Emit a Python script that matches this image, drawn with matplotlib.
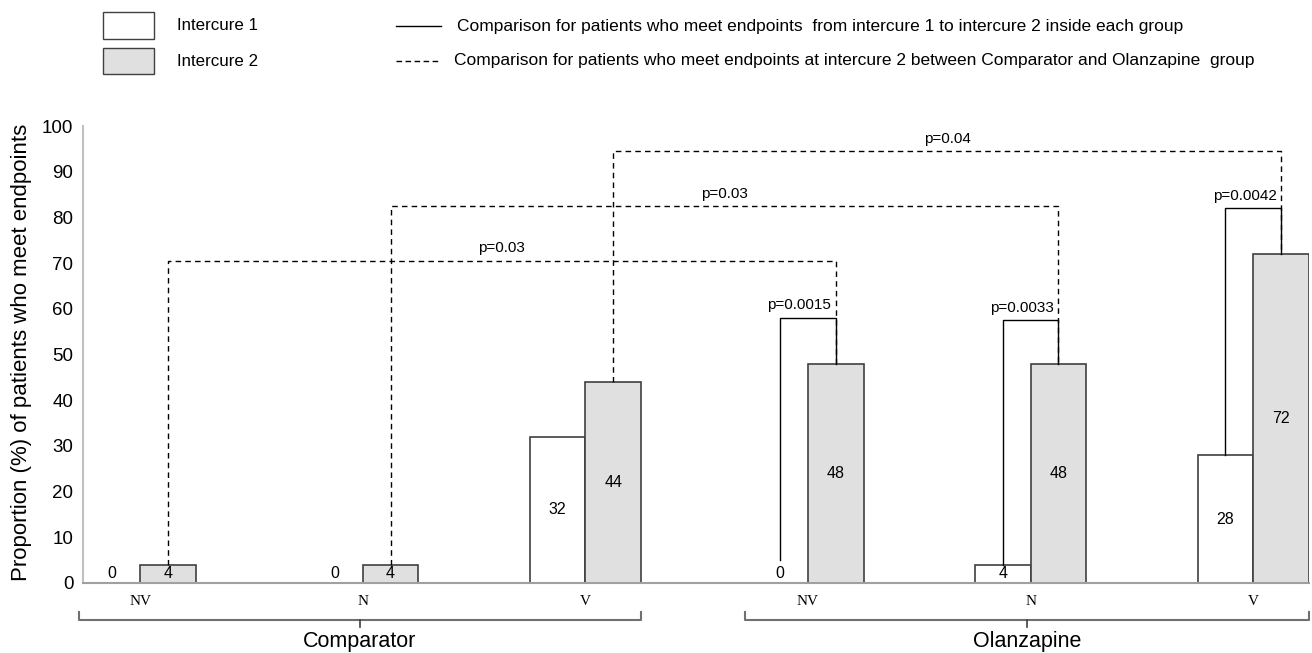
import matplotlib
matplotlib.use("Agg")
import matplotlib.pyplot as plt
from matplotlib.lines import Line2D
from matplotlib.patches import Rectangle

plt.rcParams["font.family"] = ["Liberation Sans", "DejaVu Sans"]

# ---- data ----
groups = ["Comparator", "Olanzapine"]
categories = ["NV", "N", "V", "NV", "N", "V"]
intercure1 = [0, 0, 32, 0, 4, 28]
intercure2 = [4, 4, 44, 48, 48, 72]

# between-group comparisons at intercure 2 (comparator idx, olanzapine idx)
between_pairs = [(0, 3), (1, 4), (2, 5)]
between_heights = [70.5, 82.5, 94.5]
between_labels = ["p=0.03", "p=0.03", "p=0.04"]

# within-group comparisons intercure 1 -> intercure 2 (olanzapine)
within_idx = [3, 4, 5]
within_start = [5, 4, 28]
within_heights = [58, 57.5, 82]
within_labels = ["p=0.0015", "p=0.0033", "p=0.0042"]

yticks = list(range(0, 101, 10))

W, H = 1312, 653

def fx(px):
    return px / W

def fy(py):
    return 1 - py / H

# ---- figure ----
fig = plt.figure(figsize=(13.12, 6.53), dpi=100)
ax = fig.add_axes([0.0633, 0.1072, 0.9344, 0.6998])

w = 0.25
edge = "#404040"
gray = "#e0e0e0"

for i, (a, b) in enumerate(zip(intercure1, intercure2)):
    if a > 0:
        ax.bar(i - w / 2, a, width=w, color="white", edgecolor=edge, linewidth=1.2)
    ax.bar(i + w / 2, b, width=w, color=gray, edgecolor=edge, linewidth=1.2)
    ax.text(i - w / 2, max(a / 2, 2), f"{a}", ha="center", va="center", fontsize=11.5)
    ax.text(i + w / 2, max(b / 2, 2), f"{b}", ha="center", va="center", fontsize=11.5)

# dashed brackets between groups
for (c, o), h, lab in zip(between_pairs, between_heights, between_labels):
    x1, x2 = c + w / 2, o + w / 2
    ax.plot([x1, x1, x2, x2], [intercure2[c], h, h, intercure2[o]],
            color="black", lw=1.0, ls=(0, (4, 3)))
    ax.text((x1 + x2) / 2, h + 1.2, lab, ha="center", va="bottom", fontsize=11)

# solid brackets within group
for i, s, h, lab in zip(within_idx, within_start, within_heights, within_labels):
    x1, x2 = i - w / 2, i + w / 2
    ax.plot([x1, x1, x2, x2], [s, h, h, intercure2[i]], color="black", lw=1.0)
    ax.text(x2 - 0.02, h + 1.2, lab, ha="right", va="bottom", fontsize=11)

ax.set_xlim(-0.256, 5.25)
ax.set_ylim(0, 100)
ax.set_yticks(yticks)
ax.set_yticklabels([str(t) for t in yticks], fontsize=13.5)
ax.tick_params(axis="y", length=0, pad=7)
ax.set_xticks([])
for sp in ["top", "right"]:
    ax.spines[sp].set_visible(False)
ax.spines["left"].set_color("#c0c0c0")
ax.spines["bottom"].set_color("#a0a0a0")
ax.spines["left"].set_linewidth(1.5)
ax.spines["bottom"].set_linewidth(1.5)
fig.text(fx(22), fy(352), "Proportion (%) of patients who meet endpoints",
         rotation=90, ha="center", va="center", fontsize=16)

# category labels
for i, c in enumerate(categories):
    ax.text(i, -0.041, c, transform=ax.get_xaxis_transform(), ha="center", va="center",
            fontsize=11, family=["Liberation Serif", "DejaVu Serif"])

# group braces
tr = ax.get_xaxis_transform()
brace_spans = [(-0.275, 2.25), (2.717, 5.25)]
for (xa, xb), g in zip(brace_spans, groups):
    yb, yt, yd = -0.081, -0.0635, -0.0963
    ax.add_line(Line2D([xa, xa, xb, xb], [yt, yb, yb, yt], transform=tr,
                       color="#707070", lw=1.5, clip_on=False))
    xm = (xa + xb) / 2
    ax.add_line(Line2D([xm, xm], [yb, yd], transform=tr,
                       color="#404040", lw=1.2, clip_on=False))
    ax.text(xm, -0.129, g, transform=tr, ha="center", va="center", fontsize=15.5)

# legend
fig.patches.append(Rectangle((fx(103), fy(39)), fx(51), 27 / H,
                             transform=fig.transFigure, facecolor="white",
                             edgecolor="#404040", lw=1.0))
fig.patches.append(Rectangle((fx(103), fy(74)), fx(51), 26 / H,
                             transform=fig.transFigure, facecolor=gray,
                             edgecolor="#404040", lw=1.0))
fig.text(fx(177), fy(26), "Intercure 1", ha="left", va="center", fontsize=12.2)
fig.text(fx(177), fy(61), "Intercure 2", ha="left", va="center", fontsize=12.2)
fig.add_artist(Line2D([fx(396), fx(441)], [fy(26)] * 2,
                      transform=fig.transFigure, color="black", lw=1.0))
fig.add_artist(Line2D([fx(396), fx(441)], [fy(61)] * 2,
                      transform=fig.transFigure, color="black", lw=1.0, ls=(0, (4, 2.5))))
fig.text(fx(457), fy(26),
         "Comparison for patients who meet endpoints  from intercure 1 to intercure 2 inside each group",
         ha="left", va="center", fontsize=12.5)
fig.text(fx(454), fy(61),
         "Comparison for patients who meet endpoints at intercure 2 between Comparator and Olanzapine  group",
         ha="left", va="center", fontsize=12.5)

fig.savefig("out.png", dpi=100)
